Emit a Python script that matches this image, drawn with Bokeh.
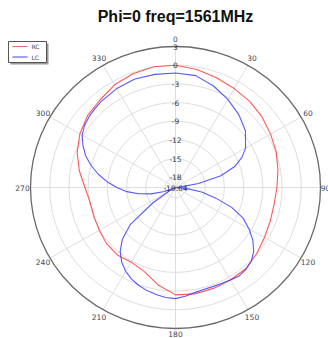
import numpy as np
from bokeh.plotting import figure
from bokeh.models import Range1d
from bokeh.core.properties import value
from bokeh.embed import file_html
from bokeh.resources import INLINE

# ---- data (dB, angle in degrees clockwise from top) ----
rc_angles = [0, 10, 20, 30, 40, 50, 60, 70, 80, 90, 100, 110, 120, 130, 140, 150, 160, 170,
             180, 190, 200, 210, 220, 230, 240, 250, 260, 270, 280, 290, 300, 310, 320, 330,
             340, 350, 360]
rc_values = [0.0, -0.4, -0.9, -1.3, -1.6, -2.0, -2.5, -2.9, -3.4, -3.8, -4.0, -3.9, -3.6, -3.1,
             -2.6, -2.5, -2.4, -2.3, -2.4, -3.8, -5.3, -5.8, -5.5, -5.6, -5.9, -6.1, -6.1, -5.5,
             -4.4, -3.3, -2.4, -1.7, -1.3, -0.6, -0.2, 0.05, 0.0]

lc_angles = [0, 10, 20, 30, 40, 50, 60, 65, 70, 75, 80, 85, 88, 92, 95, 100, 105, 110, 115,
             120, 125, 130, 135, 140, 145, 150, 155, 160, 165, 170, 175, 180, 185, 190, 195,
             200, 205, 210, 215, 220, 225, 230, 235, 240, 245, 250, 255, 260, 265, 270, 275,
             280, 285, 290, 295, 300, 305, 310, 315, 320, 330, 340, 350, 360]
lc_values = [-1.25, -1.4, -2.3, -3.3, -4.3, -5.4, -7.0, -8.2, -9.8, -12.3, -16.0, -19.0, -19.64,
             -19.64, -18.0, -15.5, -13.2, -10.3, -8.0, -6.4, -4.9, -3.7, -2.9, -2.5, -2.3, -2.5,
             -2.65, -2.7, -2.7, -2.5, -2.1, -1.8, -1.9, -2.2, -2.5, -2.9, -3.4, -4.1, -5.0, -6.2,
             -7.9, -10.5, -15.3, -18.5, -19.64, -17.8, -15.7, -13.8, -12.0, -10.5, -8.9, -7.4,
             -6.0, -4.7, -3.7, -2.8, -2.3, -2.0, -1.8, -1.6, -1.3, -1.1, -1.2, -1.25]

ring_ticks = [3, 0, -3, -6, -9, -12, -15, -18]
r_min = -19.64
r_max = 3
angle_ticks = [0, 30, 60, 90, 120, 150, 180, 210, 240, 270, 300, 330]
title_text = "Phi=0 freq=1561MHz"
series_names = ["RC", "LC"]

# ---- layout ----
W, H = 328, 338
CX, CY = 175, 187          # centre in px
RX, RY = 145, 141          # outer ring radius in px
R = r_max - r_min
SX, SY = RX / R, RY / R

p = figure(width=W, height=H, output_backend="svg", toolbar_location=None,
           x_range=Range1d(-CX / SX, (W - CX) / SX),
           y_range=Range1d(-(H - CY) / SY, CY / SY),
           min_border=0)
p.axis.visible = False
p.grid.visible = False
p.outline_line_color = None
p.background_fill_color = "white"

def px(x):
    return -CX / SX + x / SX

def py(y):
    return CY / SY - y / SY

# rings
for t in ring_ticks[1:]:
    rr = t - r_min
    p.ellipse(0, 0, width=2 * rr, height=2 * rr, fill_color=None,
              line_color="#dedede", line_width=1)
# radial spokes
th = np.radians(angle_ticks)
p.segment(x0=np.zeros(len(th)), y0=np.zeros(len(th)), x1=R * np.sin(th), y1=R * np.cos(th),
          line_color="#dedede", line_width=1)
# outer ring
p.ellipse(0, 0, width=2 * R, height=2 * R, fill_color=None, line_color="#6a6a6a", line_width=1.3)

# curves
def xy(angles, vals):
    a = np.radians(angles)
    r = np.clip(np.array(vals) - r_min, 0, None)
    return r * np.sin(a), r * np.cos(a)

x, y = xy(rc_angles, rc_values)
p.line(x, y, line_color="#ff3030", line_width=1.1, line_alpha=0.8)
x, y = xy(lc_angles, lc_values)
p.line(x, y, line_color="#3030ff", line_width=1.1, line_alpha=0.8)

# ring labels
ring_labels = [str(t) for t in ring_ticks] + ["-19.64"]
ring_y = [t - r_min for t in ring_ticks] + [0]
p.text(x=[0] * len(ring_labels), y=ring_y, text=ring_labels, text_align="center",
       text_baseline="middle", text_font=value("DejaVu Sans"), text_font_size="7.5px",
       text_color="#333333")

# angle labels
dist = {90: 5, 180: 5}
lx = [np.sin(np.radians(a)) * (R + dist.get(a, 8) / SX) for a in angle_ticks]
ly = [np.cos(np.radians(a)) * (R + dist.get(a, 8) / SY) for a in angle_ticks]
p.text(x=lx, y=ly, text=[str(a) for a in angle_ticks], text_align="center",
       text_baseline="middle", text_font=value("DejaVu Sans"), text_font_size="7.5px",
       text_color="#3d4654")

# title
p.text(x=[px(175)], y=[py(16)], text=[title_text], text_align="center", text_baseline="middle",
       text_font=value("Liberation Sans"), text_font_style="bold", text_font_size="16px",
       text_color="#111111")

# legend box
p.quad(left=[px(10)], right=[px(48)], top=[py(43)], bottom=[py(64)], fill_color="#9a9a9a",
       line_color=None)
p.quad(left=[px(8)], right=[px(46)], top=[py(41)], bottom=[py(62)], fill_color="white",
       line_color="#555555", line_width=1)
p.segment(x0=[px(12), px(12)], y0=[py(46), py(56.5)], x1=[px(27), px(27)], y1=[py(46), py(56.5)],
          line_color=["#ff6060", "#4040ff"], line_width=1)
p.text(x=[px(31), px(31)], y=[py(46), py(56.5)], text=series_names, text_align="left",
       text_baseline="middle", text_font=value("DejaVu Sans"), text_font_size="6px",
       text_color="#444444")

open("out.html", "w").write(file_html(p, INLINE))
